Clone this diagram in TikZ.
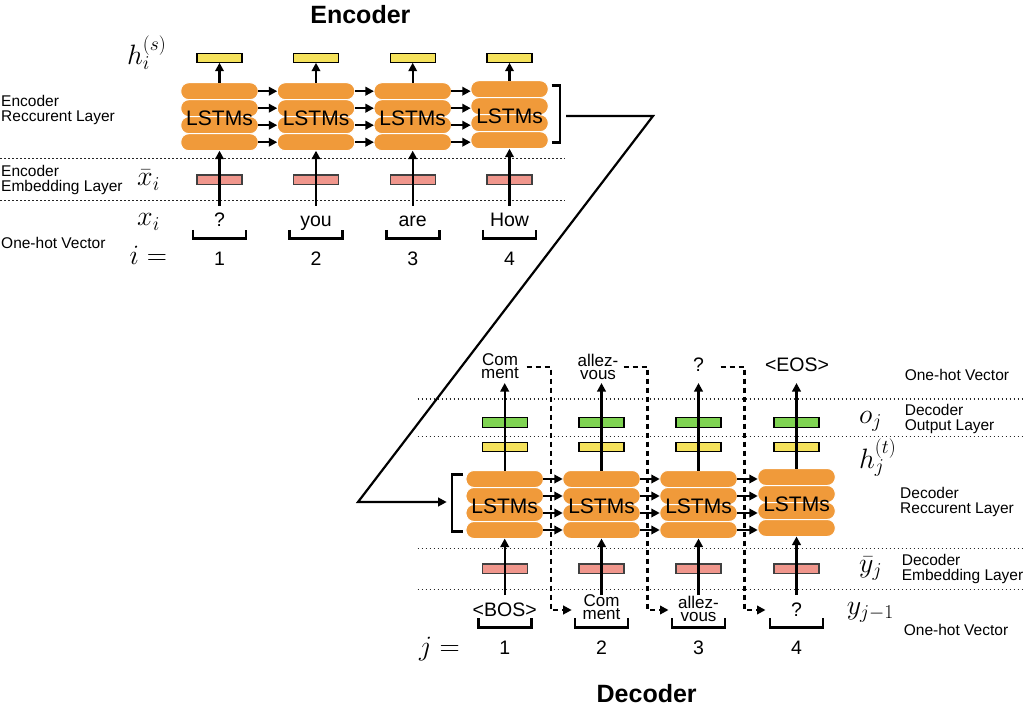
\RequirePackage{fix-cm}
\documentclass[tikz,border=0pt]{standalone}
\usepackage[no-math]{fontspec}
\setmainfont{Liberation Sans}
\usetikzlibrary{arrows.meta}
\definecolor{lstmorange}{RGB}{240,154,58}
\definecolor{hyellow}{RGB}{245,226,92}
\definecolor{embpink}{RGB}{240,150,140}
\definecolor{outgreen}{RGB}{127,212,82}
\tikzset{
  lstm/.style={rectangle, rounded corners=8pt, fill=lstmorange, draw=white, line width=1pt,
    minimum width=77.5pt, minimum height=17pt, inner sep=0pt, outer sep=0pt},
  lstmtext/.style={font=\fontsize{21}{24}\selectfont, inner sep=0pt},
  bar/.style={rectangle, line width=1.2pt, minimum width=45pt, minimum height=9.5pt, inner sep=0pt, outer sep=0pt},
  hbar/.style={bar, draw=black, fill=hyellow},
  ebar/.style={bar, draw=black!75, fill=embpink},
  obar/.style={bar, draw=black, fill=outgreen},
  flow/.style={line width=2.2pt, -{Triangle[length=8.5pt,width=8.5pt]}},
  feed/.style={line width=2.2pt, dash pattern=on 5pt off 4pt, -{Triangle[length=8.5pt,width=8.5pt]}},
  sep/.style={line width=1.1pt, dash pattern=on 1.6pt off 2.4pt, black!85},
  brk/.style={line width=2.8pt},
  word/.style={font=\fontsize{19.5}{22}\selectfont, inner sep=0pt},
  wordtwo/.style={font=\fontsize{17}{13}\selectfont, align=center, inner sep=0pt},
  num/.style={font=\fontsize{19.5}{22}\selectfont, inner sep=0pt},
  lbl/.style={font=\fontsize{15.5}{14.3}\selectfont, align=left, anchor=west, inner sep=0pt},
  sym/.style={font=\fontsize{28}{32}\selectfont, inner sep=0pt, anchor=base west},
  title/.style={font=\fontsize{25}{28}\selectfont\bfseries, inner sep=0pt},
}
\begin{document}
\begin{tikzpicture}[x=1pt, y=-1pt]
\useasboundingbox (0,0) rectangle (1024,708);
% layer separators
\foreach \y in {158.7,200.7} \draw[sep] (0,\y) -- (565,\y);
\foreach \y in {399,436.7,548.3,589.3} \draw[sep] (417.5,\y) -- (1024,\y);

% encoder
\node[title] (enctitle) at (360.4,15) {Encoder};
\foreach \c/\x/\w/\s in {1/219.5/?/0,2/316/you/0,3/412.7/are/0,4/509.5/How/-2}{
  \foreach \r in {1,...,4}
    \node[lstm] (e\c-\r) at (\x,{91.2+17*(\r-1)+\s}) {};
  \node[lstmtext] (elstm\c) at (\x,118+\s) {LSTMs};
  \node[hbar] (eh\c) at (\x,58) {};
  \node[ebar] (ex\c) at (\x,179.7) {};
  \coordinate (ein\c) at (\x,206);
  \node[word, anchor=base] (ew\c) at (\x,227) {\w};
  \draw[brk] (\x-26.5,230) |- (\x+26.5,238.5) -- (\x+26.5,230);
  \node[num] (en\c) at (\x,258.3) {\c};
  \draw[flow] (ein\c) -- (e\c-4.south);
  \draw[flow] (e\c-1.north) -- (eh\c.south);
}
\foreach \c/\n in {1/2,2/3,3/4}
  \foreach \r in {1,...,4}
    \draw[flow] (e\c-\r.east) -- (e\c-\r.east -| e\n-\r.west);

\node[lbl] (encrec) at (1,110) {Encoder\\Reccurent Layer};
\node[lbl] (encemb) at (1,180) {Encoder\\Embedding Layer};
\node[lbl] (enconehot) at (1,243.3) {One-hot Vector};
\node[sym] (hs) at (127,65) {$h_i^{(s)}$};
\node[sym] (xbar) at (137,186) {$\bar{x}_i$};
\node[sym] (xi) at (137,226) {$x_i$};
\node[sym] (ieq) at (129.5,265) {$i=$};

% encoder state into decoder
\draw[brk] (551.7,85.7) -| (560,142.7) -- (551.7,142.7);
\coordinate (encout) at (566,116);
\coordinate (bendtop) at (653,116);
\coordinate (bendlow) at (358,502);
\coordinate (decin) at (446.7,502);
\draw[line width=2.2pt, -{Triangle[length=8.5pt,width=8.5pt]}] (encout) -- (bendtop) -- (bendlow) -- (decin);
\draw[brk] (463,474.3) -| (452,531.7) -- (463,531.7);

% decoder
\foreach \c/\x/\s in {1/504.7/0,2/601.5/0,3/698.5/0,4/796.5/-2}{
  \foreach \r in {1,...,4}
    \node[lstm] (d\c-\r) at (\x,{479+17*(\r-1)+\s}) {};
  \node[lstmtext] (dlstm\c) at (\x,506+\s) {LSTMs};
  \node[obar] (do\c) at (\x,422.5) {};
  \node[hbar] (dh\c) at (\x,447) {};
  \node[ebar] (dy\c) at (\x,568.7) {};
  \coordinate (dtop\c) at (\x,383);
  \coordinate (din\c) at (\x,595);
  \draw[brk] (\x-26.5,618) |- (\x+26.5,627.5) -- (\x+26.5,618);
  \node[num] (dn\c) at (\x,648) {\c};
  \draw[flow] (din\c) -- (d\c-4.south);
  \draw[flow] (d\c-1.north) -- (dtop\c);
}
\foreach \c/\n in {1/2,2/3,3/4}
  \foreach \r in {1,...,4}
    \draw[flow] (d\c-\r.east) -- (d\c-\r.east -| d\n-\r.west);

\node[wordtwo] (dout1) at (500,366.5) {Com\\ment};
\node[wordtwo] (dout2) at (598,367) {allez-\\vous};
\node[word] (dout3) at (698.5,365) {?};
\node[word] (dout4) at (797,365) {<EOS>};
\node[word, anchor=base] (dw1) at (504.7,616.5) {<BOS>};
\node[wordtwo] (dw2) at (601.5,607.5) {Com\\ment};
\node[wordtwo] (dw3) at (698.5,608.5) {allez-\\vous};
\node[word, anchor=base] (dw4) at (796.5,616.5) {?};

% output fed back as next input
\foreach \c/\x in {1/504.7,2/601.5,3/698.5}{
  \coordinate (fbs\c) at (\x+22,366.7);
  \coordinate (fbe\c) at (\x+67,610);
  \draw[feed] (fbs\c) -- ++(24,0) |- (fbe\c);
}

\node[lbl] (donehot) at (904.6,375) {One-hot Vector};
\node[lbl] (doutlbl) at (904.6,419) {Decoder\\Output Layer};
\node[lbl] (dreclbl) at (900,502) {Decoder\\Reccurent Layer};
\node[lbl] (demblbl) at (901.6,569) {Decoder\\Embedding Layer};
\node[lbl] (dinonehot) at (903.7,630) {One-hot Vector};
\node[sym] (oj) at (859,423.5) {$o_j$};
\node[sym] (hj) at (859,468) {$h_j^{(t)}$};
\node[sym] (ybar) at (859,572) {$\bar{y}_j$};
\node[sym] (yprev) at (846.6,614) {$y_{j-1}$};
\node[sym] (jeq) at (418.8,655) {$j=$};
\node[title] (dectitle) at (646.7,694) {Decoder};
\end{tikzpicture}
\end{document}
